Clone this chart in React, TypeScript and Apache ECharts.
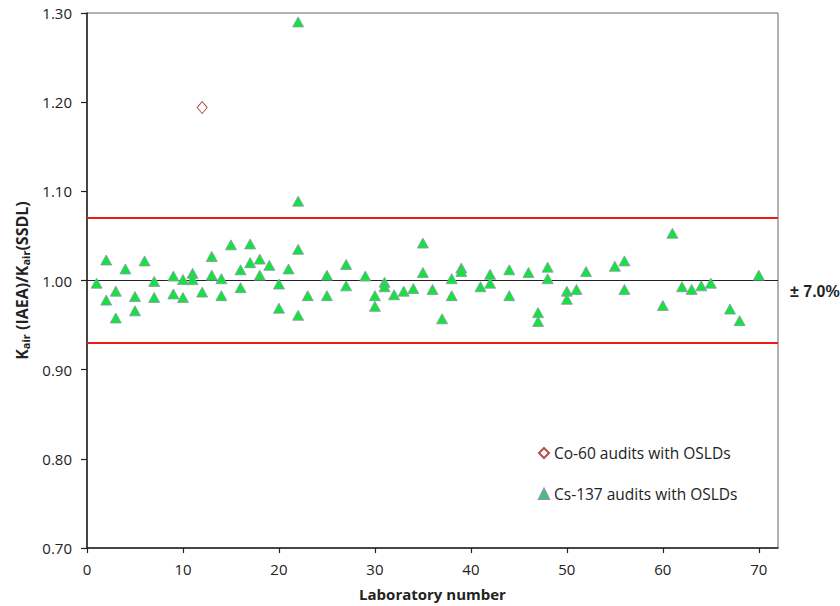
import React, { useEffect, useRef } from "react";
import * as echarts from "echarts";

const csLab: number[] = [
  1, 2, 2, 3, 3, 4, 5, 5, 6, 7, 7, 9, 9, 10, 10, 11, 11, 12, 13, 13, 14, 14, 15, 16, 16, 17, 17,
  18, 18, 19, 20, 20, 21, 22, 22, 22, 22, 23, 25, 25, 27, 27, 29, 30, 30, 31, 31, 32, 33, 34, 35, 35,
  36, 37, 38, 38, 39, 39, 41, 42, 42, 44, 44, 46, 47, 47, 48, 48, 50, 50, 51, 52,
  55, 56, 56, 60, 61, 62, 63, 64, 65, 67, 68, 70,
];
const csRatio: number[] = [
  0.997, 1.023, 0.978, 0.988, 0.958, 1.013, 0.982, 0.966, 1.022, 0.999, 0.981, 1.005, 0.985, 1.001, 0.981,
  1.008, 1.001, 0.987, 1.027, 1.006, 1.002, 0.983, 1.040, 1.012, 0.992, 1.041, 1.020,
  1.024, 1.006, 1.017, 0.996, 0.969, 1.013, 1.290, 1.089, 1.035, 0.961, 0.983, 1.006, 0.983, 1.018, 0.994,
  1.005, 0.983, 0.971, 0.998, 0.993, 0.984, 0.988, 0.991, 1.042, 1.009,
  0.990, 0.957, 1.002, 0.983, 1.014, 1.010, 0.993, 1.007, 0.997, 1.012, 0.983, 1.009, 0.964, 0.954,
  1.015, 1.002, 0.988, 0.979, 0.990, 1.010,
  1.016, 1.022, 0.990, 0.972, 1.053, 0.993, 0.990, 0.994, 0.997, 0.968, 0.955, 1.006,
];
const coLab: number[] = [12];
const coRatio: number[] = [1.194];

const seriesNames = ["Co-60 audits with OSLDs", "Cs-137 audits with OSLDs"];
const limitValues = [1.07, 0.93];
const referenceValue = 1.0;
const limitLabel = "± 7.0%";
const xTicks = [0, 10, 20, 30, 40, 50, 60, 70];

const FONT = "'Open Sans', sans-serif";

export default function App() {
  const ref = useRef<HTMLDivElement>(null);
  useEffect(() => {
    if (!ref.current) return;
    const chart = echarts.init(ref.current, undefined, { renderer: "svg" });
    chart.setOption({
      animation: false,
      textStyle: { fontFamily: FONT },
      grid: {
        left: 87,
        top: 13,
        right: 62,
        bottom: 57,
        show: true,
        borderColor: "#666",
        borderWidth: 1,
        backgroundColor: "transparent",
      },
      legend: {
        orient: "vertical",
        left: 533,
        top: 440,
        itemWidth: 10,
        itemHeight: 10,
        itemGap: 25,
        textStyle: { fontSize: 15.5, color: "#222", fontFamily: FONT },
        data: [
          { name: seriesNames[0], icon: "diamond" },
          { name: seriesNames[1], icon: "triangle" },
        ],
      },
      xAxis: {
        type: "value",
        min: 0,
        max: 72,
        interval: 10,
        name: "Laboratory number",
        nameLocation: "middle",
        nameGap: 38,
        nameTextStyle: { fontSize: 15, fontWeight: "bold", color: "#222", fontFamily: FONT },
        axisLine: { show: true, onZero: false, lineStyle: { color: "#222", width: 1.5 } },
        axisTick: { show: true, length: 5, customValues: xTicks, lineStyle: { color: "#222", width: 1.2 } },
        axisLabel: { customValues: xTicks, fontSize: 15, color: "#222", margin: 13 },
        splitLine: { show: false },
      },
      yAxis: {
        type: "value",
        min: 0.7,
        max: 1.3,
        interval: 0.1,
        name: "{a|K}{s|air}{a| (IAEA)/K}{s|air}{a|(SSDL)}",
        nameLocation: "middle",
        nameGap: 48,
        nameTextStyle: {
          rich: {
            a: { fontSize: 16, fontWeight: "bold", color: "#222", fontFamily: FONT },
            s: { fontSize: 11, fontWeight: "bold", color: "#222", fontFamily: FONT, padding: [7, 0, 0, 0] },
          },
        },
        axisLine: { show: true, lineStyle: { color: "#222", width: 1.5 } },
        axisTick: { show: true, length: 6, lineStyle: { color: "#222", width: 1.2 } },
        axisLabel: {
          fontSize: 15,
          color: "#222",
          margin: 15,
          formatter: (v: number) => v.toFixed(2),
        },
        splitLine: { show: false },
      },
      graphic: [
        {
          type: "text",
          left: 790,
          top: 283,
          style: {
            text: limitLabel,
            fontSize: 16,
            fontWeight: "bold",
            fill: "#222",
            fontFamily: "'Liberation Sans', Arial, sans-serif",
          },
        },
      ],
      series: [
        {
          name: seriesNames[1],
          type: "scatter",
          symbol: "triangle",
          symbolSize: [11, 10],
          itemStyle: { color: "#14e43a", borderColor: "#8a95b0", borderWidth: 0.8, opacity: 1 },
          data: csLab.map((x, i) => [x, csRatio[i]]),
          z: 3,
          markLine: {
            silent: true,
            symbol: "none",
            label: { show: false },
            data: [
              ...limitValues.map((v) => ({ yAxis: v, lineStyle: { color: "#f01818", width: 2, type: "solid", opacity: 1 } })),
              { yAxis: referenceValue, lineStyle: { color: "#222", width: 1, type: "solid", opacity: 1 } },
            ],
            z: 1,
          },
        },
        {
          name: seriesNames[0],
          type: "scatter",
          symbol: "diamond",
          symbolSize: [10, 12],
          itemStyle: { color: "#ffffff", borderColor: "#b5504c", borderWidth: 1, opacity: 1 },
          data: coLab.map((x, i) => [x, coRatio[i]]),
          z: 4,
        },
      ],
    });
    return () => chart.dispose();
  }, []);
  return <div ref={ref} style={{ width: 840, height: 606, position: "absolute", left: 0, top: 0, background: "#fff" }} />;
}
